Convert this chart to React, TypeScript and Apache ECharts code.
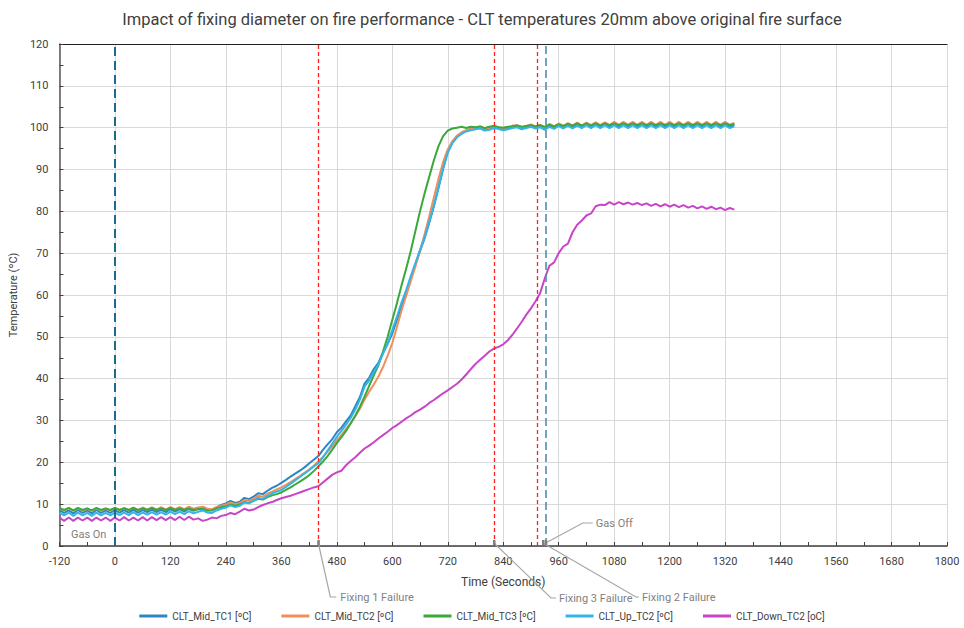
import React, { useEffect, useRef } from "react";
import * as echarts from "echarts";

const times = [
  -120, -110, -100, -90, -80, -70, -60, -50, -40, -30,
  -20, -10, 0, 10, 20, 30, 40, 50, 60, 70,
  80, 90, 100, 110, 120, 130, 140, 150, 160, 170,
  180, 190, 200, 210, 220, 230, 240, 250, 260, 270,
  280, 290, 300, 310, 320, 330, 340, 350, 360, 370,
  380, 390, 400, 410, 420, 430, 440, 450, 460, 470,
  480, 490, 500, 510, 520, 530, 540, 550, 560, 570,
  580, 590, 600, 610, 620, 630, 640, 650, 660, 670,
  680, 690, 700, 710, 720, 730, 740, 750, 760, 770,
  780, 790, 800, 810, 820, 830, 840, 850, 860, 870,
  880, 890, 900, 910, 920, 930, 940, 950, 960, 970,
  980, 990, 1000, 1010, 1020, 1030, 1040, 1050, 1060, 1070,
  1080, 1090, 1100, 1110, 1120, 1130, 1140, 1150, 1160, 1170,
  1180, 1190, 1200, 1210, 1220, 1230, 1240, 1250, 1260, 1270,
  1280, 1290, 1300, 1310, 1320, 1330, 1340,
];

const midTC1 = [
  8.6, 7.9, 8.5, 7.8, 8.6, 7.9, 8.5, 7.8, 8.6, 7.9,
  8.5, 7.9, 8.6, 8.0, 8.6, 8.0, 8.7, 8.0, 8.6, 8.1,
  8.7, 8.1, 8.7, 8.1, 8.8, 8.2, 8.8, 8.2, 8.9, 8.4,
  9.0, 9.3, 8.7, 8.6, 9.3, 9.8, 10.2, 10.8, 10.3, 10.6,
  11.5, 11.2, 11.8, 12.6, 12.4, 13.2, 13.9, 14.4, 15.1, 15.8,
  16.6, 17.3, 18.0, 18.8, 19.7, 20.6, 21.5, 23.0, 24.3, 25.5,
  27.2, 28.3, 29.8, 31.2, 33.4, 35.6, 38.8, 40.2, 42.3, 43.8,
  46.2, 48.3, 50.8, 54.0, 57.3, 60.5, 64.0, 67.3, 70.5, 73.6,
  77.3, 81.2, 85.6, 90.2, 94.2, 96.5, 97.9, 98.7, 99.3, 99.7,
  99.9, 100.1, 99.6, 99.8, 100.3, 100.0, 99.7, 99.9, 100.2, 100.4,
  99.9, 100.2, 100.5, 100.1, 100.4, 99.8, 100.5, 100.0, 100.7, 100.1,
  100.8, 100.1, 100.8, 100.2, 100.9, 100.2, 100.9, 100.3, 100.9, 100.2,
  100.9, 100.2, 101.0, 100.2, 100.9, 100.3, 100.9, 100.2, 100.9, 100.2,
  100.9, 100.2, 100.8, 100.2, 100.9, 100.3, 100.9, 100.2, 100.9, 100.2,
  100.9, 100.2, 100.9, 100.2, 100.9, 100.2, 100.7,
];

const midTC2 = [
  9.0, 8.5, 9.0, 8.4, 9.0, 8.5, 8.9, 8.4, 9.0, 8.5,
  8.9, 8.5, 9.1, 8.6, 9.1, 8.6, 9.2, 8.6, 9.2, 8.7,
  9.2, 8.7, 9.3, 8.7, 9.3, 8.8, 9.3, 8.8, 9.4, 8.9,
  9.2, 9.4, 8.9, 8.8, 9.3, 9.6, 9.9, 10.4, 10.0, 10.3,
  11.0, 10.8, 11.3, 12.0, 11.8, 12.5, 13.0, 13.5, 14.0, 14.6,
  15.3, 16.0, 16.7, 17.5, 18.3, 19.2, 20.2, 21.3, 22.5, 23.8,
  25.3, 26.5, 28.0, 29.4, 31.0, 32.8, 35.0, 36.9, 38.6, 40.5,
  42.8, 45.5, 48.5, 52.3, 56.3, 59.8, 63.3, 66.8, 70.6, 74.6,
  78.8, 83.3, 87.8, 91.8, 94.8, 96.8, 98.1, 98.9, 99.4, 99.8,
  100.0, 100.3, 99.8, 99.9, 100.4, 100.1, 99.9, 100.1, 100.5, 100.6,
  100.1, 100.4, 100.8, 100.3, 100.7, 100.0, 100.9, 100.3, 101.0, 100.4,
  101.1, 100.5, 101.2, 100.5, 101.2, 100.6, 101.3, 100.6, 101.3, 100.6,
  101.4, 100.7, 101.4, 100.7, 101.4, 100.7, 101.4, 100.7, 101.4, 100.7,
  101.4, 100.7, 101.4, 100.7, 101.4, 100.7, 101.4, 100.7, 101.4, 100.7,
  101.4, 100.7, 101.4, 100.7, 101.4, 100.7, 101.1,
];

const midTC3 = [
  9.1, 8.6, 9.1, 8.5, 9.1, 8.6, 9.0, 8.5, 9.1, 8.6,
  9.0, 8.6, 9.1, 8.6, 9.0, 8.6, 9.1, 8.6, 9.0, 8.6,
  9.1, 8.6, 9.0, 8.6, 9.1, 8.6, 9.0, 8.6, 9.0, 8.6,
  8.8, 8.9, 8.4, 8.5, 9.0, 9.3, 9.5, 9.9, 9.6, 9.9,
  10.5, 10.3, 10.8, 11.3, 11.1, 11.7, 12.1, 12.4, 12.8, 13.4,
  14.0, 14.7, 15.4, 16.1, 16.9, 17.9, 19.0, 20.2, 21.5, 23.0,
  24.6, 26.0, 27.5, 29.3, 31.2, 33.3, 35.7, 38.3, 40.8, 43.2,
  46.5, 50.0, 54.0, 58.0, 62.3, 66.3, 70.5, 75.3, 80.0, 84.3,
  88.3, 92.2, 95.6, 98.0, 99.3, 99.8, 100.0, 100.2, 99.9, 100.2,
  100.1, 100.3, 99.9, 100.2, 100.4, 100.1, 100.0, 100.2, 100.3, 100.5,
  100.2, 100.4, 100.6, 100.3, 100.6, 100.2, 100.7, 100.3, 100.8, 100.4,
  100.9, 100.5, 101.0, 100.5, 101.0, 100.5, 101.0, 100.5, 101.0, 100.6,
  101.0, 100.6, 101.0, 100.6, 101.0, 100.6, 101.0, 100.6, 101.0, 100.6,
  101.0, 100.6, 101.0, 100.6, 101.0, 100.6, 101.0, 100.6, 101.0, 100.6,
  101.0, 100.6, 101.0, 100.6, 101.0, 100.6, 100.9,
];

const upTC2 = [
  8.0, 7.3, 8.0, 7.2, 8.0, 7.3, 7.9, 7.2, 8.0, 7.3,
  7.9, 7.3, 8.0, 7.4, 8.0, 7.4, 8.1, 7.4, 8.0, 7.5,
  8.1, 7.5, 8.1, 7.5, 8.2, 7.6, 8.2, 7.6, 8.3, 7.8,
  8.2, 8.5, 8.0, 7.9, 8.5, 8.9, 9.2, 9.7, 9.3, 9.6,
  10.4, 10.2, 10.8, 11.5, 11.3, 12.0, 12.6, 13.0, 13.4, 14.1,
  14.9, 15.7, 16.5, 17.3, 18.1, 19.0, 19.8, 21.2, 22.8, 24.4,
  26.1, 27.5, 29.0, 30.6, 32.6, 35.0, 38.1, 39.6, 41.6, 43.4,
  46.0, 48.5, 51.6, 54.8, 58.2, 61.2, 64.5, 67.6, 70.8, 73.8,
  77.5, 81.4, 85.8, 90.3, 94.0, 96.3, 97.7, 98.5, 99.1, 99.4,
  99.6, 99.8, 99.3, 99.5, 99.9, 99.7, 99.4, 99.6, 99.9, 100.1,
  99.6, 99.9, 100.2, 99.8, 100.1, 99.5, 100.2, 99.7, 100.4, 99.8,
  100.5, 99.8, 100.5, 99.9, 100.6, 99.9, 100.6, 99.9, 100.6, 99.9,
  100.6, 99.9, 100.6, 99.9, 100.6, 99.9, 100.6, 99.9, 100.6, 99.9,
  100.6, 99.9, 100.6, 99.9, 100.6, 99.9, 100.6, 99.9, 100.6, 99.9,
  100.6, 99.9, 100.6, 99.9, 100.6, 99.9, 100.3,
];

const downTC2 = [
  6.8, 6.0, 6.8, 6.0, 6.8, 6.1, 6.8, 6.0, 6.8, 6.1,
  6.8, 6.0, 6.8, 6.1, 6.9, 6.1, 6.8, 6.1, 6.9, 6.1,
  6.9, 6.2, 6.9, 6.2, 6.9, 6.2, 7.0, 6.2, 7.0, 6.3,
  6.6, 6.0, 6.3, 6.8, 6.6, 7.2, 7.4, 7.9, 7.6, 8.2,
  8.9, 8.5, 8.7, 9.3, 9.8, 10.2, 10.5, 11.0, 11.4, 11.7,
  12.0, 12.4, 12.8, 13.2, 13.6, 14.0, 14.3, 15.2, 16.1, 17.0,
  17.6, 18.0, 19.3, 20.3, 21.2, 22.3, 23.3, 24.0, 24.8, 25.7,
  26.5, 27.3, 28.2, 28.9, 29.7, 30.5, 31.2, 32.0, 32.6, 33.3,
  34.2, 34.9, 35.7, 36.5, 37.2, 38.0, 38.8, 39.8, 41.0, 42.3,
  43.5, 44.5, 45.5, 46.5, 47.2, 47.6, 48.2, 49.2, 50.5, 52.0,
  53.6, 55.3, 56.8, 58.5, 60.5, 64.0, 67.0, 67.8, 70.0, 71.6,
  72.3, 75.0, 76.8, 77.8, 79.0, 79.5, 81.2, 81.6, 81.5, 82.2,
  81.6, 82.2, 81.7, 82.1, 81.6, 82.0, 81.5, 81.9, 81.3, 81.8,
  81.2, 81.7, 81.1, 81.6, 81.0, 81.5, 80.9, 81.3, 80.7, 81.2,
  80.6, 81.1, 80.5, 80.9, 80.3, 80.8, 80.4,
];

const seriesNames = [
  "CLT_Mid_TC1 [ºC]",
  "CLT_Mid_TC2 [ºC]",
  "CLT_Mid_TC3 [ºC]",
  "CLT_Up_TC2 [ºC]",
  "CLT_Down_TC2 [oC]",
];
const seriesColors = ["#2E86C1", "#F28E5B", "#3AA83A", "#33B5E8", "#C845C8"];

const failureTimes = [440, 820, 913];
const gasOnTime = 0;
const gasOffTime = 932;

const X_MIN = -120;
const X_MAX = 1800;
const X_STEP = 120;
const Y_MIN = 0;
const Y_MAX = 120;
const Y_STEP = 10;

const FONT = "Roboto, 'Noto Sans', sans-serif";

export default function App() {
  const ref = useRef<HTMLDivElement>(null);

  useEffect(() => {
    document.body.style.margin = "0";
    const chart = echarts.init(ref.current!, null, { renderer: "svg" });
    const values = [midTC1, midTC2, midTC3, upTC2, downTC2];
    const pair = (vals: number[]) => times.map((t, i) => [t, vals[i]]);

    const markLineData: any[] = [
      ...failureTimes.map((t) => ({
        xAxis: t,
        lineStyle: { color: "#FF2020", type: [4, 3], width: 1.3 },
      })),
      { xAxis: gasOnTime, lineStyle: { color: "#1B6A90", type: [9, 5], width: 2 } },
      { xAxis: gasOffTime, lineStyle: { color: "#4E8FAE", type: [8, 4], width: 1.6 } },
    ];

    const series: any[] = values.map((v, i) => ({
      name: seriesNames[i],
      type: "line",
      data: pair(v),
      showSymbol: false,
      symbol: "none",
      lineStyle: { width: 2, color: seriesColors[i] },
      itemStyle: { color: seriesColors[i] },
      z: 3,
      ...(i === 0
        ? {
            markLine: {
              silent: true,
              symbol: ["none", "none"],
              label: { show: false },
              data: markLineData,
              z: 5,
            },
          }
        : {}),
    }));

    const option: any = {
      animation: false,
      backgroundColor: "#ffffff",
      textStyle: { fontFamily: FONT },
      title: {
        text: "Impact of fixing diameter on fire performance - CLT temperatures 20mm above original fire surface",
        left: "center",
        top: 6,
        textStyle: { fontFamily: FONT, fontSize: 16.5, fontWeight: "normal", color: "#404040" },
      },
      grid: { left: 57, right: 17, top: 44, bottom: 82, containLabel: false },
      legend: {
        bottom: 2,
        left: "center",
        icon: "rect",
        itemWidth: 28,
        itemHeight: 3,
        itemGap: 30,
        textStyle: { fontFamily: FONT, fontSize: 10, color: "#404040" },
        data: seriesNames,
      },
      xAxis: [
        {
          type: "value",
          min: X_MIN,
          max: X_MAX,
          interval: X_STEP,
          name: "Time (Seconds)",
          nameLocation: "middle",
          nameGap: 30,
          nameTextStyle: { fontFamily: FONT, fontSize: 12, color: "#404040" },
          axisLine: { onZero: false, lineStyle: { color: "#404040", width: 1.5 } },
          axisTick: { inside: true, length: 4, lineStyle: { color: "#404040" } },
          minorTick: { show: true, splitNumber: 2, length: 4, lineStyle: { color: "#404040" } },
          axisLabel: {
            fontFamily: FONT,
            fontSize: 11,
            color: "#404040",
            margin: 10,
            formatter: (v: number) => String(v),
          },
          splitLine: { show: true, lineStyle: { color: "#D9D9D9", width: 1 } },
        },
        {
          type: "value",
          position: "top",
          min: X_MIN,
          max: X_MAX,
          interval: X_STEP,
          axisLine: { show: true, onZero: false, lineStyle: { color: "#222222", width: 1 } },
          axisTick: { show: false },
          axisLabel: { show: false },
          splitLine: { show: false },
        },
      ],
      yAxis: {
        type: "value",
        min: Y_MIN,
        max: Y_MAX,
        interval: Y_STEP,
        name: "Temperature (ºC)",
        nameLocation: "middle",
        nameGap: 34,
        nameTextStyle: { fontFamily: FONT, fontSize: 11, color: "#404040" },
        axisLine: { show: true, onZero: false, lineStyle: { color: "#595959", width: 1.5 } },
        axisTick: { show: true, inside: true, length: 4, lineStyle: { color: "#404040" } },
        minorTick: { show: true, splitNumber: 2, length: 4, lineStyle: { color: "#404040" } },
        axisLabel: { fontFamily: FONT, fontSize: 11, color: "#404040", margin: 11 },
        splitLine: { show: true, lineStyle: { color: "#D9D9D9", width: 1 } },
      },
      series,
    };

    chart.setOption(option);

    const px = (t: number, v: number) =>
      chart.convertToPixel({ xAxisIndex: 0, yAxisIndex: 0 }, [t, v]) as number[];
    const axisY = px(0, 0)[1];

    const callouts = [
      { text: "Fixing 1 Failure", time: failureTimes[0], startDx: 0, elbowDx: 12, elbowDy: 51, endDx: 18, textDx: 22 },
      { text: "Fixing 3 Failure", time: failureTimes[1], startDx: 0, elbowDx: 57, elbowDy: 52, endDx: 62, textDx: 65 },
      { text: "Fixing 2 Failure", time: failureTimes[2], startDx: 6, elbowDx: 99, elbowDy: 51, endDx: 102, textDx: 105 },
      { text: "Gas Off", time: gasOffTime, startDx: 0, elbowDx: 37, elbowDy: -23, endDx: 47, textDx: 50 },
    ];

    const graphic: any[] = [];
    callouts.forEach((c) => {
      const ax = px(c.time, 0)[0];
      graphic.push({
        type: "polyline",
        silent: true,
        z: 10,
        shape: {
          points: [
            [ax + c.startDx, axisY - 3],
            [ax + c.elbowDx, axisY + c.elbowDy],
            [ax + c.endDx, axisY + c.elbowDy],
          ],
        },
        style: { stroke: "#A6A6A6", lineWidth: 1.2, fill: null },
      });
      graphic.push({
        type: "rect",
        silent: true,
        z: 10,
        shape: { x: ax + c.startDx - 1, y: axisY - 6, width: 2.5, height: 5 },
        style: { fill: "#7F7F7F" },
      });
      graphic.push({
        type: "text",
        silent: true,
        z: 10,
        x: ax + c.textDx,
        y: axisY + c.elbowDy,
        style: {
          text: c.text,
          fontFamily: FONT,
          fontSize: 11,
          fill: "#7F7F7F",
          verticalAlign: "middle",
        },
      });
    });
    const gasOnX = px(gasOnTime, 0)[0];
    graphic.push({
      type: "text",
      silent: true,
      z: 10,
      x: gasOnX - 44,
      y: axisY - 12,
      style: {
        text: "Gas On",
        fontFamily: FONT,
        fontSize: 11,
        fill: "#7F7F7F",
        verticalAlign: "middle",
      },
    });

    chart.setOption({ graphic });

    return () => {
      chart.dispose();
    };
  }, []);

  return <div ref={ref} style={{ width: 964, height: 628 }} />;
}
